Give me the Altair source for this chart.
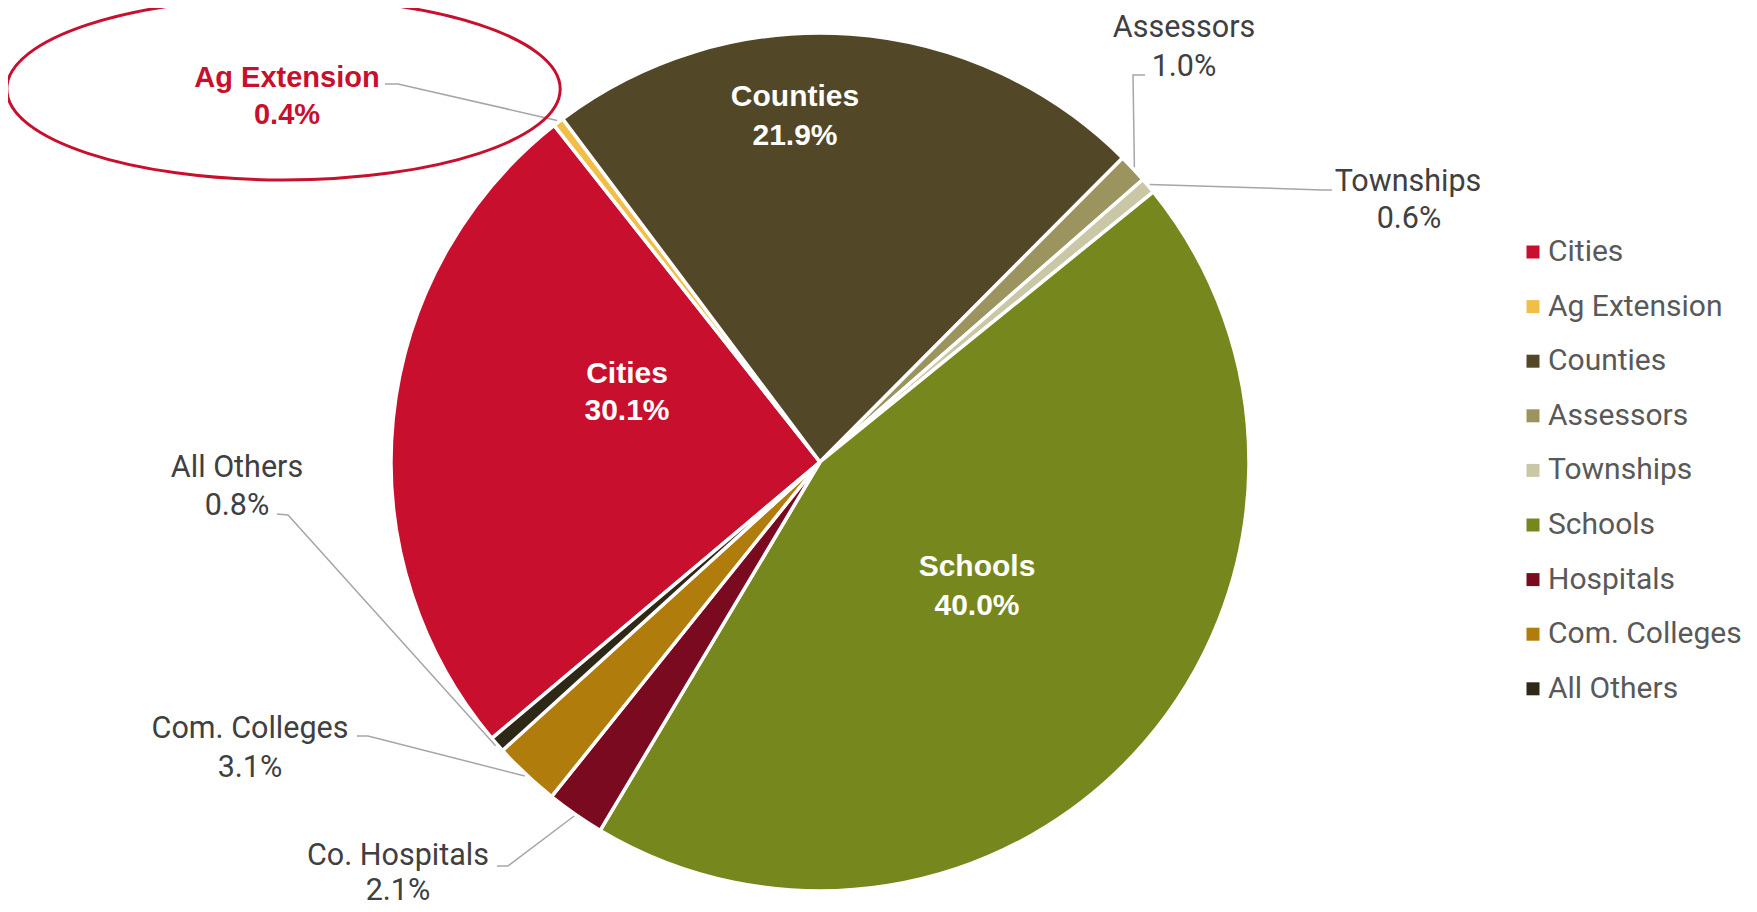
import math
import altair as alt
import pandas as pd

# ---------------- data ----------------
categories = ["Cities", "Ag Extension", "Counties", "Assessors", "Townships",
              "Schools", "Hospitals", "Com. Colleges", "All Others"]
# slice sizes as drawn in the reference pie (percent of the circle)
slice_share = [25.5, 0.4, 22.7, 1.1, 0.6, 44.4, 2.2, 2.5, 0.6]
# percentages printed in the data labels
label_pct = [30.1, 0.4, 21.9, 1.0, 0.6, 40.0, 2.1, 3.1, 0.8]
label_names = ["Cities", "Ag Extension", "Counties", "Assessors", "Townships",
               "Schools", "Co. Hospitals", "Com. Colleges", "All Others"]
colors = ["#C8102E", "#F1BE48", "#524727", "#9B945F", "#CAC7A7",
          "#76881D", "#7A0A1F", "#B07C0C", "#2E2816"]

# ---------------- layout ----------------
W, H = 1741, 896
CX, CY = 812, 454          # pie centre inside the chart
R = 429                    # pie radius
START_DEG = 229.9          # angle of first slice (clockwise from 12 o'clock)

# label line centres, offsets from the pie centre in px: (name, pct, style)
label_layout = {
    "Cities":        ((-193, -90), (-193, -53), "inside"),
    "Ag Extension":  ((-533, -386), (-533, -349), "ag"),
    "Counties":      ((-25, -367), (-25, -328), "inside"),
    "Assessors":     ((364, -436), (364, -397), "outside"),
    "Townships":     ((588, -282), (589, -245), "outside"),
    "Schools":       ((157, 103), (157, 142), "inside"),
    "Hospitals":     ((-422, 392), (-422, 427), "outside"),
    "Com. Colleges": ((-570, 265), (-570, 304), "outside"),
    "All Others":    ((-583, 4), (-583, 42), "outside"),
}
# leader line elbow and end, offsets from pie centre (px)
leader_layout = {
    "Ag Extension":  [(-422, -378), (-435, -378)],
    "Assessors":     [(313, -387), (325, -387)],
    "Townships":     [(502, -272), (512, -272)],
    "All Others":    [(-532, 53), (-543, 52)],
    "Com. Colleges": [(-452, 274), (-463, 274)],
    "Hospitals":     [(-312, 404), (-323, 404)],
}

# ---------------- tables ----------------
pie_df = pd.DataFrame({"category": categories, "share": slice_share,
                       "idx": list(range(len(categories)))})

total = sum(slice_share)
mid_angle = {}
cum = 0.0
for c, s in zip(categories, slice_share):
    mid_angle[c] = START_DEG + 360.0 * (cum + s / 2.0) / total
    cum += s

label_rows = []
for c, name, p in zip(categories, label_names, label_pct):
    (nx, ny), (px, py), style = label_layout[c]
    label_rows.append({"category": c, "text": name, "x": nx, "y": ny, "style": style})
    label_rows.append({"category": c, "text": f"{p:.1f}%", "x": px, "y": py, "style": style})
labels_df = pd.DataFrame(label_rows)

leader_rows = []
for c, pts in leader_layout.items():
    a = math.radians(mid_angle[c])
    rr = R + 2
    leader_rows.append({"category": c, "pt": 0, "x": rr * math.sin(a), "y": -rr * math.cos(a)})
    for k, (x, y) in enumerate(pts, start=1):
        leader_rows.append({"category": c, "pt": k, "x": x, "y": y})
leader_df = pd.DataFrame(leader_rows)

ell_df = pd.DataFrame({"x": [-536.5], "y": [-373.0]})

# ---------------- charts ----------------
start = math.radians(START_DEG)
xenc = alt.X("x:Q", scale=alt.Scale(domain=[-CX, W - CX], nice=False, zero=False), axis=None)
yenc = alt.Y("y:Q", scale=alt.Scale(domain=[-CY, H - CY], nice=False, zero=False, reverse=True), axis=None)

pie = alt.Chart(pie_df).mark_arc(
    outerRadius=R, stroke="white", strokeWidth=3.5, x=CX, y=CY
).encode(
    theta=alt.Theta("share:Q", stack=True,
                    scale=alt.Scale(range=[start, start + 2 * math.pi])),
    color=alt.Color(
        "category:N",
        scale=alt.Scale(domain=categories, range=colors),
        legend=alt.Legend(
            title=None, orient="none", legendX=1510, legendY=229,
            symbolType="square", symbolSize=169, symbolStrokeWidth=0,
            labelFont="Roboto", labelFontSize=30, labelColor="#595959",
            rowPadding=24.6, labelOffset=0, padding=0, labelLimit=400,
        ),
    ),
    order=alt.Order("idx:Q"),
)

leaders = alt.Chart(leader_df).mark_line(color="#A6A6A6", strokeWidth=1.5).encode(
    x=xenc, y=yenc, detail="category:N", order="pt:Q"
)

b = 91.0 / 276.7
k = 0.5523
ell_path = (f"M -1 0 C -1 {-k*b:.4f} {-k:.4f} {-b:.4f} 0 {-b:.4f} "
            f"C {k:.4f} {-b:.4f} 1 {-k*b:.4f} 1 0 "
            f"C 1 {k*b:.4f} {k:.4f} {b:.4f} 0 {b:.4f} "
            f"C {-k:.4f} {b:.4f} -1 {k*b:.4f} -1 0 Z")
ellipse = alt.Chart(ell_df).mark_point(
    shape=ell_path, filled=False, stroke="#C8102E", strokeWidth=3,
    size=(2 * 276.7) ** 2, opacity=1
).encode(x=xenc, y=yenc)

txt_inside = alt.Chart(labels_df).transform_filter(alt.datum.style == "inside").mark_text(
    font="Liberation Sans", fontWeight="bold", fontSize=30, color="white",
    align="center", baseline="middle", dy=2
).encode(x=xenc, y=yenc, text="text:N")

txt_ag = alt.Chart(labels_df).transform_filter(alt.datum.style == "ag").mark_text(
    font="Liberation Sans", fontWeight="bold", fontSize=29, color="#C8102E",
    align="center", baseline="middle", dy=2
).encode(x=xenc, y=yenc, text="text:N")

txt_out = alt.Chart(labels_df).transform_filter(alt.datum.style == "outside").mark_text(
    font="Roboto", fontSize=30.5, color="#404040",
    align="center", baseline="middle", dy=2
).encode(x=xenc, y=yenc, text="text:N")

chart = alt.layer(pie, leaders, ellipse, txt_inside, txt_ag, txt_out).properties(
    width=W, height=H, padding=0, autosize="none"
).configure_view(stroke=None)

chart.save("out.html", embed_options={"renderer": "svg", "actions": False})
